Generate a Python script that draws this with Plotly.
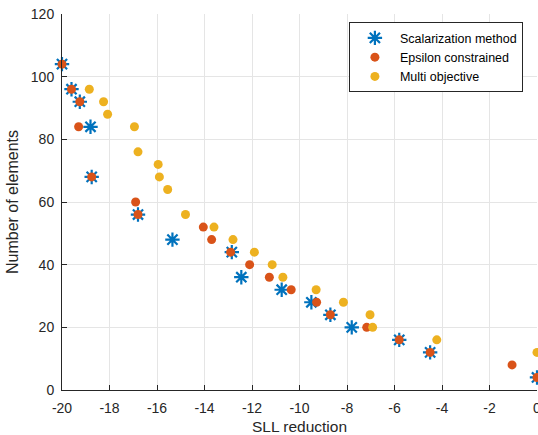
import plotly.graph_objects as go

# Scalarization method
scal_x = [-20.0, -19.6, -19.25, -18.8, -18.75, -16.8, -15.35, -12.85, -12.45, -10.75, -9.5, -8.7, -7.8, -5.8, -4.5, 0.0]
scal_y = [104, 96, 92, 84, 68, 56, 48, 44, 36, 32, 28, 24, 20, 16, 12, 4]

# Epsilon constrained
eps_x = [-20.0, -19.6, -19.25, -19.3, -18.75, -16.9, -16.8, -14.05, -13.7, -12.9, -12.1, -11.27, -10.35, -9.28, -8.7, -7.17, -5.8, -4.5, -1.05, 0.0]
eps_y = [104, 96, 92, 84, 68, 60, 56, 52, 48, 44, 40, 36, 32, 28, 24, 20, 16, 12, 8, 4]

# Multi objective
mo_x = [-18.85, -18.25, -18.08, -16.95, -16.8, -15.95, -15.9, -15.55, -14.8, -13.6, -12.8, -11.9, -11.15, -10.7, -9.3, -8.15, -7.03, -6.92, -4.22, 0.0]
mo_y = [96, 92, 88, 84, 76, 72, 68, 64, 56, 52, 48, 44, 40, 36, 32, 28, 24, 20, 16, 12]

x_ticks = [-20, -18, -16, -14, -12, -10, -8, -6, -4, -2, 0]
y_ticks = [0, 20, 40, 60, 80, 100, 120]

BLUE = "#0072BD"
RED = "#D95319"
YELLOW = "#EDB120"
TXT = "#262626"
FONT = "Liberation Sans, Arial, sans-serif"

fig = go.Figure()
fig.add_trace(go.Scatter(
    x=scal_x, y=scal_y, mode="markers", name="Scalarization method", cliponaxis=False,
    marker=dict(symbol="asterisk-open", size=12, color=BLUE,
                line=dict(color=BLUE, width=2.2)),
))
fig.add_trace(go.Scatter(
    x=eps_x, y=eps_y, mode="markers", name="Epsilon constrained", cliponaxis=False,
    marker=dict(symbol="circle", size=9, color=RED, line=dict(width=0)),
))
fig.add_trace(go.Scatter(
    x=mo_x, y=mo_y, mode="markers", name="Multi objective", cliponaxis=False,
    marker=dict(symbol="circle", size=9, color=YELLOW, line=dict(width=0)),
))

# plot area in page coords: x 62..537, y 14..390
fig.update_layout(
    width=538, height=435,
    margin=dict(l=62, r=1, t=14, b=45, autoexpand=False),
    paper_bgcolor="white", plot_bgcolor="white",
    font=dict(family=FONT, size=13, color=TXT),
    showlegend=True,
    legend=dict(
        x=0.604, y=0.978, xanchor="left", yanchor="top",
        bgcolor="white", bordercolor=TXT, borderwidth=1,
        font=dict(size=12.5, color="#000000"),
        itemwidth=40, tracegroupgap=0,
    ),
)
fig.update_xaxes(
    range=[-20, 0], tickvals=x_ticks, ticktext=[str(v) for v in x_ticks],
    showgrid=True, gridcolor="#E5E5E5", gridwidth=1,
    showline=True, linecolor=TXT, linewidth=1,
    ticks="inside", ticklen=5, tickcolor=TXT,
    zeroline=False, ticklabeloverflow="allow", automargin=False,
    ticklabelstandoff=5,
    title=dict(text="SLL reduction", font=dict(size=15.5, color=TXT), standoff=7),
    tickfont=dict(size=14, color=TXT),
)
fig.update_yaxes(
    range=[0, 120], tickvals=y_ticks, ticktext=[str(v) for v in y_ticks],
    showgrid=True, gridcolor="#E5E5E5", gridwidth=1,
    showline=True, linecolor=TXT, linewidth=1,
    ticks="inside", ticklen=5, tickcolor=TXT,
    zeroline=False, automargin=False, ticklabelstandoff=4,
    title=dict(text="Number of elements", font=dict(size=16, color=TXT), standoff=8),
    tickfont=dict(size=14, color=TXT),
)

page_css = (
    "document.documentElement.style.margin='0';"
    "document.documentElement.style.overflow='hidden';"
    "document.body.style.margin='0';"
    "document.body.style.overflow='hidden';"
)

fig.write_html("out.html", post_script=page_css,
               config={"displayModeBar": False, "staticPlot": False})
